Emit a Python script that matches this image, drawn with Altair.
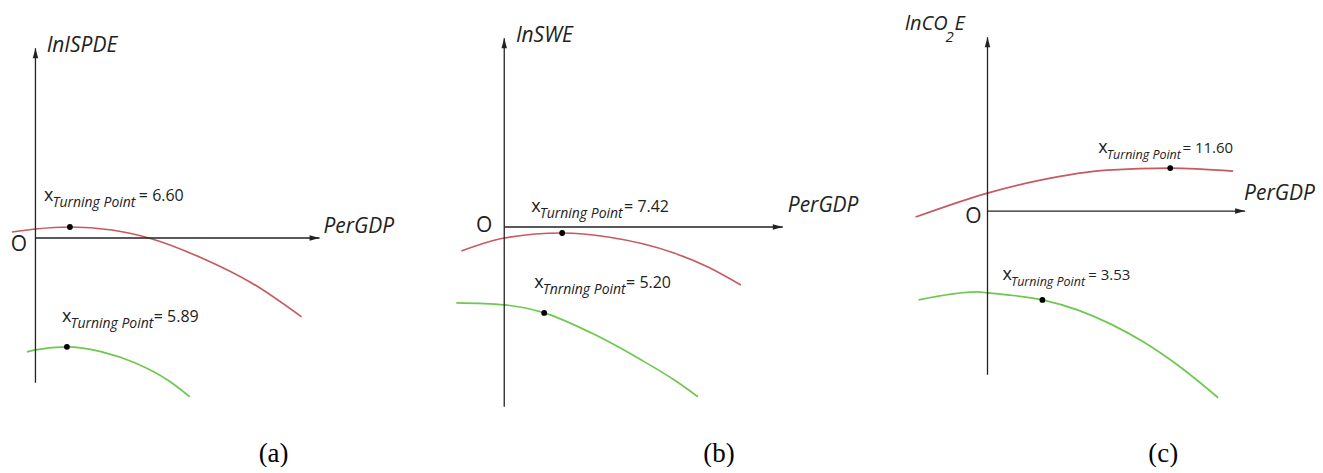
import altair as alt
import pandas as pd

RED = "#c65a60"
GREEN = "#6dc84f"
INK = "#222222"
SANS = "Open Sans"
SERIF = "Liberation Serif"
H = 457

# ---------------- panel (a): lnISPDE ----------------
a_red_x = [-23.5, 0, 34.5, 76.5, 113.5, 166.5, 216.5, 266.5]
a_red_y = [6, 9, 11, 8, 0, -20, -45, -79]
a_green_x = [-8.5, 0, 31.5, 66.5, 99.5, 133.5, 154.5]
a_green_y = [-114, -112, -109, -114, -125, -143, -159]
a_turn_x = [34.5, 31.5]
a_turn_y = [11, -109]
a_turn_val = ["= 6.60", "= 5.89"]
a_turn_sub = ["Turning Point", "Turning Point"]
a_lab_x = [8.5, 26.5]
a_lab_y = [37, -84]
a_lab_end = [148.5, 163.5]

# ---------------- panel (b): lnSWE ----------------
b_red_x = [-43, 0, 58, 104, 170, 204, 237]
b_red_y = [-24, -11, -6, -10, -26, -40, -58]
b_green_x = [-48, 0, 40, 87, 137, 170, 194]
b_green_y = [-76, -78, -86, -106, -133, -153, -170]
b_turn_x = [58, 40]
b_turn_y = [-6, -86]
b_turn_val = ["= 7.42", "= 5.20"]
b_turn_sub = ["Turning Point", "Tnrning Point"]
b_lab_x = [27, 30]
b_lab_y = [15, -61]
b_lab_end = [165, 167]

# ---------------- panel (c): lnCO2E ----------------
c_red_x = [-72, 0, 53, 120, 183, 246]
c_red_y = [-6, 18, 31, 41, 43, 40]
c_green_x = [-69, -10, 0, 55, 90, 123, 156, 190, 231]
c_green_y = [-89, -81, -82, -89, -99, -113, -131, -154, -187]
c_turn_x = [183, 55]
c_turn_y = [43, -89]
c_turn_val = ["= 11.60", "= 3.53"]
c_turn_sub = ["Turning Point", "Turning Point"]
c_lab_x = [111, 15]
c_lab_y = [58, -69]
c_lab_end = [246, 143]


def panel(width, xdom, ydom, rx, ry, gx, gy, tx, ty, tval, tsub, lx, ly, lend,
          ytitle, ytitle_pos, xtitle_pos, xmax, ymin, ymax, o_pos, caption, cap_pos,
          sub_size=14, eq_size=16, extra=None):
    xs = alt.Scale(domain=xdom, nice=False, zero=False)
    ys = alt.Scale(domain=ydom, nice=False, zero=False)
    X = alt.X("x:Q", scale=xs, axis=None)
    Y = alt.Y("y:Q", scale=ys, axis=None)

    curves = pd.DataFrame(
        {"x": rx + gx, "y": ry + gy,
         "series": ["upper"] * len(rx) + ["lower"] * len(gx),
         "order": list(range(len(rx))) + list(range(len(gx)))})
    line = alt.Chart(curves).mark_line(interpolate="monotone", strokeWidth=1.7).encode(
        x=X, y=Y, order="order:Q",
        color=alt.Color("series:N", scale=alt.Scale(domain=["upper", "lower"], range=[RED, GREEN]),
                        legend=None))

    axes_df = pd.DataFrame({"x": [0, 0], "y": [0, ymin], "x2": [xmax, 0], "y2": [0, ymax]})
    rules = alt.Chart(axes_df).mark_rule(color=INK, strokeWidth=1.3).encode(
        x=X, y=Y, x2="x2:Q", y2="y2:Q")

    arr_r = alt.Chart(pd.DataFrame({"x": [xmax], "y": [0]})).mark_point(
        shape="M0,0L-2,-0.55L-2,0.55Z", filled=True, size=100, color=INK, opacity=1
    ).encode(x=X, y=Y)
    arr_u = alt.Chart(pd.DataFrame({"x": [0], "y": [ymax]})).mark_point(
        shape="M0,0L-0.55,2L0.55,2Z", filled=True, size=100, color=INK, opacity=1
    ).encode(x=X, y=Y)

    dots = alt.Chart(pd.DataFrame({"x": tx, "y": ty})).mark_circle(
        size=34, color="black", opacity=1).encode(x=X, y=Y)

    xsym = alt.Chart(pd.DataFrame({"x": lx, "y": ly, "t": ["x"] * len(lx)})).mark_text(
        font=SANS, fontSize=18, align="left", baseline="alphabetic", color=INK
    ).encode(x=X, y=Y, text="t:N")
    sub = alt.Chart(pd.DataFrame({"x": [v + 8.5 for v in lx], "y": [v - 6 for v in ly], "t": tsub})).mark_text(
        font=SANS, fontSize=sub_size, fontStyle="italic", align="left", baseline="alphabetic", color=INK
    ).encode(x=X, y=Y, text="t:N")
    eq = alt.Chart(pd.DataFrame({"x": lend, "y": ly, "t": tval})).mark_text(
        font=SANS, fontSize=eq_size, align="right", baseline="alphabetic", color=INK
    ).encode(x=X, y=Y, text="t:N")

    titles = alt.Chart(pd.DataFrame({
        "x": [ytitle_pos[0], xtitle_pos[0]], "y": [ytitle_pos[1], xtitle_pos[1]],
        "t": [ytitle, "PerGDP"]})).mark_text(
        font=SANS, fontSize=21, fontStyle="italic", align="left", baseline="alphabetic", color=INK,
        clip=True
    ).encode(x=X, y=Y, text="t:N")

    o_lbl = alt.Chart(pd.DataFrame({"x": [o_pos[0]], "y": [o_pos[1]], "t": ["O"]})).mark_text(
        font=SANS, fontSize=21, align="center", baseline="middle", color=INK
    ).encode(x=X, y=Y, text="t:N")

    cap = alt.Chart(pd.DataFrame({"x": [cap_pos[0]], "y": [cap_pos[1]], "t": [caption]})).mark_text(
        font=SERIF, fontSize=27, align="center", baseline="alphabetic", color="black"
    ).encode(x=X, y=Y, text="t:N")

    layers = [line, rules, arr_r, arr_u, dots, xsym, sub, eq, titles, o_lbl, cap]
    if extra is not None:
        layers += extra(X, Y)
    return alt.layer(*layers).properties(width=width, height=H)


def co2_title(X, Y):
    head = alt.Chart(pd.DataFrame({"x": [-40], "y": [181], "t": ["lnCO"]})).mark_text(
        font=SANS, fontSize=20, fontStyle="italic", align="right", baseline="alphabetic", color=INK
    ).encode(x=X, y=Y, text="t:N")
    two = alt.Chart(pd.DataFrame({"x": [-42], "y": [169], "t": ["2"]})).mark_text(
        font=SANS, fontSize=15, fontStyle="italic", align="left", baseline="alphabetic", color=INK
    ).encode(x=X, y=Y, text="t:N")
    tail = alt.Chart(pd.DataFrame({"x": [-33], "y": [181], "t": ["E"]})).mark_text(
        font=SANS, fontSize=20, fontStyle="italic", align="left", baseline="alphabetic", color=INK
    ).encode(x=X, y=Y, text="t:N")
    return [head, two, tail]


pa = panel(432, [-25.5, 406.5], [-227, 230], a_red_x, a_red_y, a_green_x, a_green_y,
           a_turn_x, a_turn_y, a_turn_val, a_turn_sub, a_lab_x, a_lab_y, a_lab_end,
           "lnISPDE", (11.5, 186), (288.5, 5), 284.5, -145, 190, (-16.5, -7), "(a)", (238.5, -224))
pb = panel(450, [-63, 387], [-238, 219], b_red_x, b_red_y, b_green_x, b_green_y,
           b_turn_x, b_turn_y, b_turn_val, b_turn_sub, b_lab_x, b_lab_y, b_lab_end,
           "lnSWE", (12, 185), (284, 15), 279, -180, 189, (-20, 1), "(b)", (215, -235))
pc = panel(425, [-97, 328], [-254, 203], c_red_x, c_red_y, c_green_x, c_green_y,
           c_turn_x, c_turn_y, c_turn_val, c_turn_sub, c_lab_x, c_lab_y, c_lab_end,
           "", (0, 0), (257, 11), 258, -164, 174, (-14, -6), "(c)", (176, -251),
           sub_size=12.5, eq_size=15, extra=co2_title)

chart = alt.hconcat(pa, pb, pc, spacing=0, bounds="flush").properties(
    padding=0, background="white"
).configure_view(stroke=None)

chart.save("out.html", embed_options={"renderer": "svg", "actions": False})
